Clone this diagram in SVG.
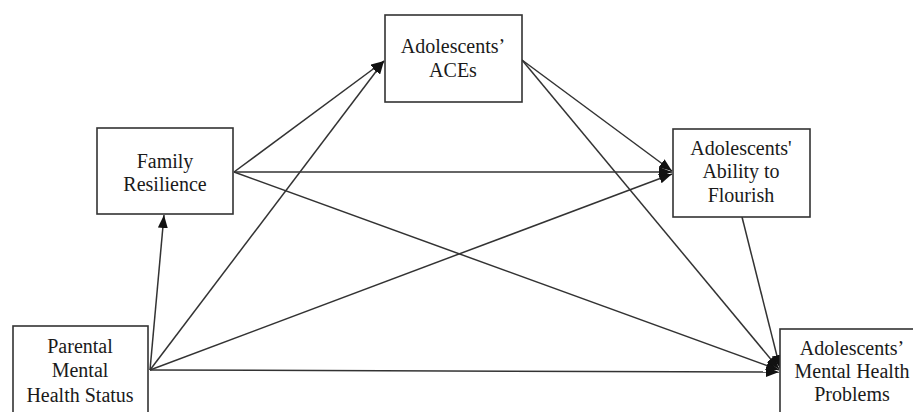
<svg xmlns="http://www.w3.org/2000/svg" width="913" height="412" viewBox="0 0 913 412">
<style>
.box{fill:#fff;stroke:#333;stroke-width:1.6}
.t{font-family:'Liberation Serif','Times New Roman',Times,serif;font-size:20px;fill:#1a1a1a;text-anchor:middle}
.c line{stroke:#333;stroke-width:1.5;marker-end:url(#ah)}
</style>
<defs>
<marker id="ah" markerUnits="userSpaceOnUse" markerWidth="14" markerHeight="10" refX="13" refY="5" orient="auto">
<path d="M0,0 L13,5 L0,10 Z" fill="#111"/>
</marker>
</defs>
<rect width="913" height="412" fill="#fff"/>
<g class="c" id="connectors">
<line x1="150" y1="370" x2="164" y2="215"/>
<line x1="150" y1="370" x2="384" y2="61"/>
<line x1="150" y1="370" x2="672" y2="174"/>
<line x1="150" y1="370" x2="779" y2="372"/>
<line x1="234" y1="172" x2="384" y2="61"/>
<line x1="234" y1="172" x2="672" y2="172"/>
<line x1="234" y1="172" x2="779" y2="370"/>
<line x1="522" y1="60" x2="672" y2="171"/>
<line x1="522" y1="60" x2="779" y2="369"/>
<line x1="742" y1="217" x2="780" y2="368"/>
</g>
<g id="parental">
<rect class="box" x="13" y="326" width="135" height="100"/>
<text class="t" x="80" y="353">Parental</text>
<text class="t" x="80" y="377">Mental</text>
<text class="t" x="80" y="402">Health Status</text>
</g>
<g id="family">
<rect class="box" x="97" y="128" width="136" height="86"/>
<text class="t" x="165" y="168">Family</text>
<text class="t" x="165" y="191">Resilience</text>
</g>
<g id="aces">
<rect class="box" x="385" y="15" width="137" height="87"/>
<text class="t" x="453" y="53">Adolescents’</text>
<text class="t" x="453" y="77">ACEs</text>
</g>
<g id="ability">
<rect class="box" x="673" y="129" width="137" height="88"/>
<text class="t" x="741" y="155">Adolescents'</text>
<text class="t" x="741" y="178">Ability to</text>
<text class="t" x="741" y="202">Flourish</text>
</g>
<g id="mhp">
<rect class="box" x="780" y="329" width="140" height="100"/>
<text class="t" x="852" y="355">Adolescents’</text>
<text class="t" x="852" y="378">Mental Health</text>
<text class="t" x="852" y="401">Problems</text>
</g>
</svg>
